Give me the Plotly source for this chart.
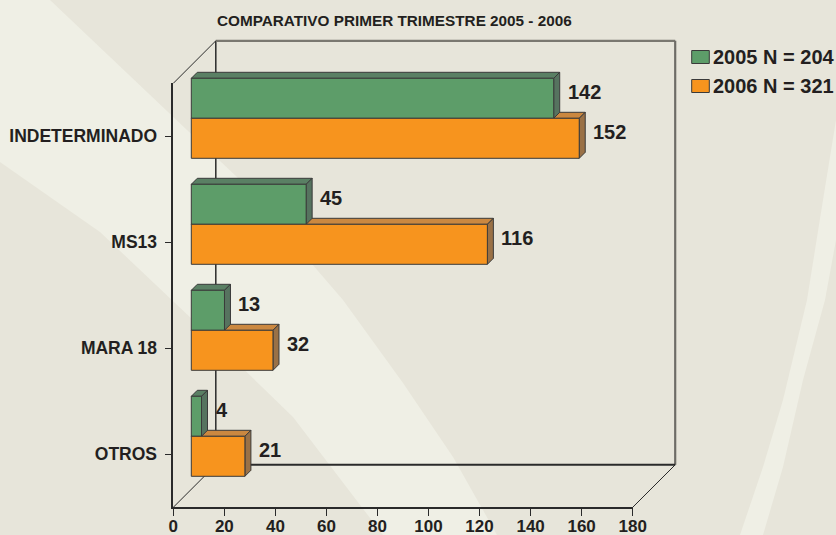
import plotly.graph_objects as go

# ---------------- data ----------------
categories = ["INDETERMINADO", "MS13", "MARA 18", "OTROS"]
values_2005 = [142, 45, 13, 4]
values_2006 = [152, 116, 32, 21]
series_names = ["2005 N = 204", "2006 N = 321"]
x_ticks = [0, 20, 40, 60, 80, 100, 120, 140, 160, 180]
title_text = "COMPARATIVO PRIMER TRIMESTRE 2005 - 2006"

# ---------------- styling / geometry ----------------
W, H = 836, 535
FONT = "Liberation Sans, Arial, Helvetica, sans-serif"
TXT = "#231F20"
EDGE = "#3A3A3A"
BG = "#E7E5DA"
BG_LIGHT = "#EFEFE5"
GREEN, GREEN_TOP, GREEN_SIDE = "#5D9D69", "#5A8064", "#56735F"
ORANGE, ORANGE_TOP, ORANGE_SIDE = "#F7941E", "#CB8840", "#9A7146"

SX, SY = 2.5522, 106.0          # px per value unit / per category step
OX, OY = 191.3, 118.3           # px of value 0 / first category (bar plane)
D_FRONT, D_BACK, D_BAR = -18.0, 24.5, 6.0   # depths in px
X_MAX = x_ticks[-1]
I_TOP, I_BOT = -0.5, len(categories) - 0.5
BAR_W = 40.0 / SY
PAD = 4.0


def P(v, i, d=0.0):
    """point in bar-plane data coords, pushed back by depth d (px)"""
    return v + d / SX, i - d / SY


def px_x(u):
    return OX + u * SX


def px_y(u):
    return OY + u * SY


xa_lo = P(0, 0, D_FRONT)[0] - PAD / SX
xa_hi = P(X_MAX, 0, D_BACK)[0] + PAD / SX
ya_top = P(0, I_TOP, D_BACK)[1] - PAD / SY
ya_bot = P(0, I_BOT, D_FRONT)[1] + PAD / SY

fx_lo = P(0, 0, D_FRONT)[0]
fx_hi = P(X_MAX, 0, D_FRONT)[0]
fy_top = P(0, I_TOP, D_FRONT)[1]
fy_bot = P(0, I_BOT, D_FRONT)[1]

idx = list(range(len(categories)))

fig = go.Figure()

# bars (front faces)
fig.add_trace(go.Bar(
    y=idx, x=values_2005, orientation="h", base=0, width=BAR_W, offset=-BAR_W,
    marker=dict(color=GREEN, line=dict(color=EDGE, width=1)),
    name=series_names[0], showlegend=False, hoverinfo="x+name"))
fig.add_trace(go.Bar(
    y=idx, x=values_2006, orientation="h", base=0, width=BAR_W, offset=0,
    marker=dict(color=ORANGE, line=dict(color=EDGE, width=1)),
    name=series_names[1], showlegend=False, hoverinfo="x+name"))

# invisible trace that creates the front-plane axes subplot
fig.add_trace(go.Scatter(x=[None], y=[None], xaxis="x2", yaxis="y2",
                         showlegend=False, hoverinfo="skip"))

shapes = []


def ppath(pts):
    return "M " + " L ".join(f"{x / W:.5f},{1 - y / H:.5f}" for x, y in pts) + " Z"


# background decoration
band = [(0, 0), (50, 0), (187, 130), (237, 177), (343, 300), (403, 383), (453, 457),
        (497, 535), (383, 535), (293, 417), (193, 320), (100, 232), (0, 162)]
stripe = [(836, 120), (823, 200), (807, 300), (783, 400), (763, 467), (740, 535),
          (763, 535), (783, 467), (803, 380), (825, 300), (836, 240)]
for pts in (band, stripe):
    shapes.append(dict(type="path", xref="paper", yref="paper", path=ppath(pts),
                       fillcolor=BG_LIGHT, line=dict(width=0), layer="below"))


def seg(a, b, color, width):
    shapes.append(dict(type="line", xref="x", yref="y", x0=a[0], y0=a[1], x1=b[0], y1=b[1],
                       line=dict(color=color, width=width), layer="below"))


# 3D box
seg(P(0, I_TOP, D_BACK), P(0, I_BOT, D_BACK), "#2A2A2A", 1.5)
seg(P(0, I_TOP, D_BACK), P(X_MAX, I_TOP, D_BACK), "#7A7870", 2.2)
seg(P(X_MAX, I_TOP, D_BACK), P(X_MAX, I_BOT, D_BACK), "#6E6C66", 2.2)
seg(P(0, I_BOT, D_BACK), P(X_MAX, I_BOT, D_BACK), "#2A2A2A", 2)
seg(P(0, I_TOP, D_FRONT), P(0, I_TOP, D_BACK), "#2A2A2A", 1)
seg(P(0, I_BOT, D_FRONT), P(0, I_BOT, D_BACK), "#2A2A2A", 1)
seg(P(X_MAX, I_BOT, D_FRONT), P(X_MAX, I_BOT, D_BACK), "#2A2A2A", 1)


def dpath(pts):
    return "M " + " L ".join(f"{x:.5f},{y:.5f}" for x, y in pts) + " Z"


def faces(values, offset, top_col, side_col):
    for i, v in enumerate(values):
        a = i + offset            # top edge index
        b = a + BAR_W             # bottom edge index
        top = [P(0, a), P(v, a), P(v, a, D_BAR), P(0, a, D_BAR)]
        side = [P(v, a), P(v, a, D_BAR), P(v, b, D_BAR), P(v, b)]
        for pts, col in ((top, top_col), (side, side_col)):
            shapes.append(dict(type="path", xref="x", yref="y", path=dpath(pts),
                               fillcolor=col, line=dict(color=EDGE, width=1), layer="below"))


faces(values_2006, 0, ORANGE_TOP, ORANGE_SIDE)
faces(values_2005, -BAR_W, GREEN_TOP, GREEN_SIDE)

# custom legend swatches
legend_rows = [(50.5, 63.5, GREEN), (79.5, 92.5, ORANGE)]
for (y0, y1, col) in legend_rows:
    shapes.append(dict(type="rect", xref="paper", yref="paper",
                       x0=691.7 / W, x1=709.3 / W, y0=1 - y1 / H, y1=1 - y0 / H,
                       fillcolor=col, line=dict(color=EDGE, width=1)))

annotations = []
for i, v in enumerate(values_2005):
    annotations.append(dict(x=v, y=i - BAR_W / 2, xref="x", yref="y", text=str(v),
                            showarrow=False, xanchor="left", yanchor="middle",
                            xshift=12, yshift=6,
                            font=dict(family=FONT, size=20, color=TXT, weight="bold")))
for i, v in enumerate(values_2006):
    annotations.append(dict(x=v, y=i + BAR_W / 2, xref="x", yref="y", text=str(v),
                            showarrow=False, xanchor="left", yanchor="middle",
                            xshift=12, yshift=6,
                            font=dict(family=FONT, size=20, color=TXT, weight="bold")))
for (y0, y1, col), name in zip(legend_rows, series_names):
    annotations.append(dict(x=711 / W, y=1 - (y0 + y1) / 2 / H, xref="paper", yref="paper",
                            text=name, showarrow=False, xanchor="left", yanchor="middle",
                            font=dict(family=FONT, size=20, color=TXT, weight="bold")))
annotations.append(dict(x=394 / W, y=1 - 20 / H, xref="paper", yref="paper",
                        text=title_text, showarrow=False, xanchor="center", yanchor="middle",
                        font=dict(family=FONT, size=15.3, color=TXT, weight="bold")))

fig.update_layout(
    width=W, height=H, autosize=False,
    margin=dict(l=0, r=0, t=0, b=0, pad=0, autoexpand=False),
    paper_bgcolor=BG, plot_bgcolor="rgba(0,0,0,0)",
    barmode="overlay", showlegend=False,
    shapes=shapes, annotations=annotations,
    xaxis=dict(domain=[px_x(xa_lo) / W, px_x(xa_hi) / W], range=[xa_lo, xa_hi],
               visible=False, fixedrange=True),
    yaxis=dict(domain=[1 - px_y(ya_bot) / H, 1 - px_y(ya_top) / H], range=[ya_bot, ya_top],
               visible=False, fixedrange=True),
    xaxis2=dict(domain=[px_x(fx_lo) / W, px_x(fx_hi) / W], range=[0, X_MAX], anchor="y2",
                tickmode="array", tickvals=x_ticks, ticktext=[str(t) for t in x_ticks],
                ticks="outside", ticklen=7, tickwidth=1, tickcolor="#2A2A2A",
                showline=True, linecolor="#2A2A2A", linewidth=2,
                showgrid=False, zeroline=False, automargin=False, fixedrange=True,
                ticklabelstandoff=-5,
                tickfont=dict(family=FONT, size=17, color=TXT, weight="bold")),
    yaxis2=dict(domain=[1 - px_y(fy_bot) / H, 1 - px_y(fy_top) / H], range=[I_BOT, I_TOP],
                anchor="x2", tickmode="array", tickvals=idx, ticktext=categories,
                ticks="outside", ticklen=7, tickwidth=1, tickcolor="#2A2A2A",
                showline=True, linecolor="#2A2A2A", linewidth=1.5,
                showgrid=False, zeroline=False, ticklabelstandoff=4,
                automargin=False, fixedrange=True,
                tickfont=dict(family=FONT, size=17.5, color=TXT, weight="bold")),
)

fig.write_html("out.html", config={"displayModeBar": False},
               post_script="document.body.style.margin='0';document.body.style.overflow='hidden';")
